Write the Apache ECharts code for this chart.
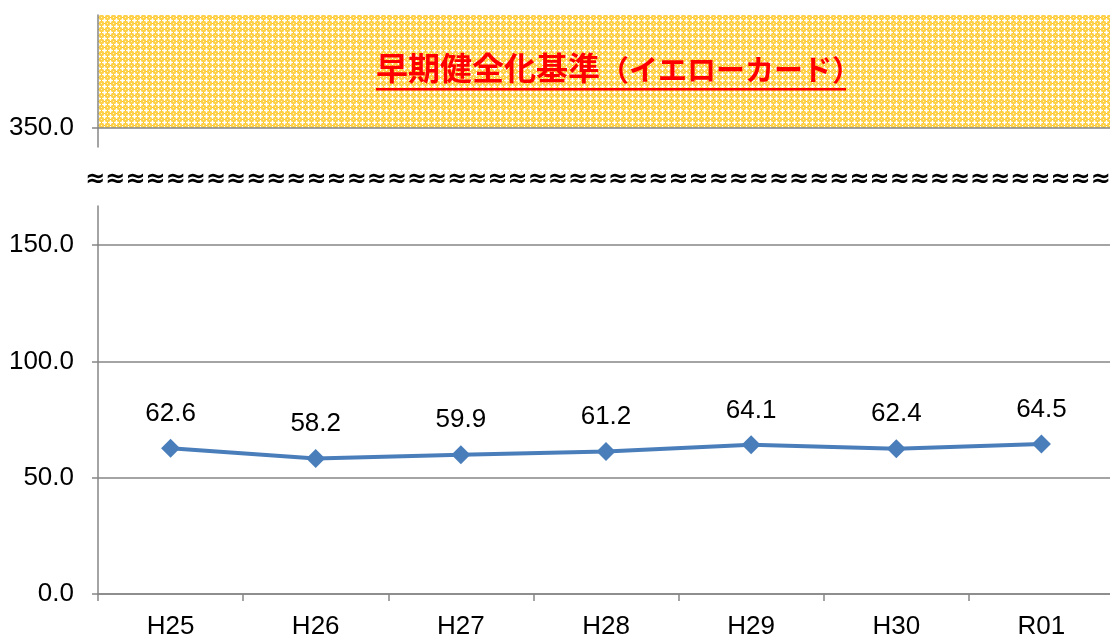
<!DOCTYPE html>
<html>
<head>
<meta charset="utf-8">
<script src="https://cdn.jsdelivr.net/npm/echarts@6/dist/echarts.min.js"></script>
<style>html,body{margin:0;padding:0;background:#fff;}#c{width:1110px;height:637px;}</style>
</head>
<body>
<div id="c"></div>
<script>
var categories = ['H25', 'H26', 'H27', 'H28', 'H29', 'H30', 'R01'];
var values = [62.6, 58.2, 59.9, 61.2, 64.1, 62.4, 64.5];
var yellowCardLevel = 350.0;
var bandTitleMain = '早期健全化基準';
var bandTitleSub = '（イエローカード）';

// dotted yellow pattern
var pc = document.createElement('canvas');
pc.width = 6; pc.height = 6;
var px = pc.getContext('2d');
px.fillStyle = '#FFD04A';
px.fillRect(0, 0, 6, 6);
px.fillStyle = '#FFE9A0';
px.fillRect(1, 1, 3, 3);
px.fillStyle = '#FFFFFF';
px.fillRect(2, 0, 1, 5);
px.fillRect(0, 2, 5, 1);
px.fillStyle = '#FFF4D0';
px.fillRect(5, 5, 1, 1);
px.fillStyle = '#FFC21F';
px.fillRect(5, 2, 1, 1);
px.fillRect(2, 5, 1, 1);

var gray = '#868686';
var numFont = 'Liberation Sans';
var fs = 26;

var chart = echarts.init(document.getElementById('c'), null, {renderer: 'canvas'});
chart.setOption({
  animation: false,
  grid: [
    {left: 98, right: -4, top: 15, height: 113, show: true, borderWidth: 0, outerBoundsMode: 'none',
     backgroundColor: {image: pc, repeat: 'repeat'}},
    {left: 98, right: -4, top: 245, bottom: 43, outerBoundsMode: 'none'},
    {left: 98, right: -4, top: 128, height: 19, outerBoundsMode: 'none'},
    {left: 98, right: -4, top: 206, height: 39, outerBoundsMode: 'none'}
  ],
  xAxis: [
    {gridIndex: 0, type: 'category', data: categories, boundaryGap: true,
     axisLine: {show: true, lineStyle: {color: gray, width: 1.5}},
     axisTick: {show: false}, axisLabel: {show: false}},
    {gridIndex: 1, type: 'category', data: categories, boundaryGap: true,
     axisLine: {show: true, lineStyle: {color: gray, width: 1.5}},
     axisTick: {show: true, length: 7, lineStyle: {color: gray, width: 1.5}},
     axisLabel: {show: true, margin: 20, fontSize: fs, color: '#000', fontFamily: numFont}},
    {gridIndex: 2, type: 'category', data: categories, show: false},
    {gridIndex: 3, type: 'category', data: categories, show: false}
  ],
  yAxis: [
    {gridIndex: 0, type: 'value', min: yellowCardLevel, max: 400, interval: 50,
     axisLine: {show: true, lineStyle: {color: gray, width: 1.5}},
     axisTick: {show: true, length: 6, lineStyle: {color: gray, width: 1.5}},
     axisLabel: {margin: 24, fontSize: fs, color: '#000', fontFamily: numFont, showMaxLabel: false,
       formatter: function (v) { return v.toFixed(1); }},
     splitLine: {show: false}},
    {gridIndex: 1, type: 'value', min: 0, max: 150, interval: 50,
     axisLine: {show: true, lineStyle: {color: gray, width: 1.5}},
     axisTick: {show: true, length: 6, lineStyle: {color: gray, width: 1.5}},
     axisLabel: {margin: 24, fontSize: fs, color: '#000', fontFamily: numFont,
       formatter: function (v) { return v.toFixed(1); }},
     splitLine: {show: true, lineStyle: {color: gray, width: 1.5}}},
    {gridIndex: 2, type: 'value', min: 0, max: 1,
     axisLine: {show: true, lineStyle: {color: gray, width: 1.5}},
     axisTick: {show: false}, axisLabel: {show: false}, splitLine: {show: false}},
    {gridIndex: 3, type: 'value', min: 0, max: 1,
     axisLine: {show: true, lineStyle: {color: gray, width: 1.5}},
     axisTick: {show: false}, axisLabel: {show: false}, splitLine: {show: false}}
  ],
  series: [
    {type: 'line', xAxisIndex: 1, yAxisIndex: 1, data: values,
     symbol: 'diamond', symbolSize: 19,
     lineStyle: {color: '#4A7EBB', width: 4},
     itemStyle: {color: '#4A7EBB'},
     label: {show: true, position: 'top', distance: 12, fontSize: fs, color: '#000', fontFamily: numFont,
       formatter: function (p) { return p.value.toFixed(1); }}}
  ],
  graphic: [
    {type: 'text', left: 376, top: 52, z: 10,
     style: {text: '{a|' + bandTitleMain + '}{b|' + bandTitleSub + '}',
       rich: {
         a: {fill: '#FF0000', fontSize: 32, fontWeight: 'bold', fontFamily: 'Noto Sans CJK JP', verticalAlign: 'bottom'},
         b: {fill: '#FF0000', fontSize: 29, fontWeight: 'bold', fontFamily: 'Noto Sans CJK JP', verticalAlign: 'bottom'}
       }}},
    {type: 'rect', shape: {x: 376, y: 88, width: 470, height: 2.5}, z: 10, style: {fill: '#FF0000'}},
    {type: 'text', x: 85, y: 180, z: 10,
     style: {text: '≈'.repeat(53), fill: '#000', font: 'bold 24px "DejaVu Sans"', verticalAlign: 'middle'}}
  ]
});
</script>
</body>
</html>
